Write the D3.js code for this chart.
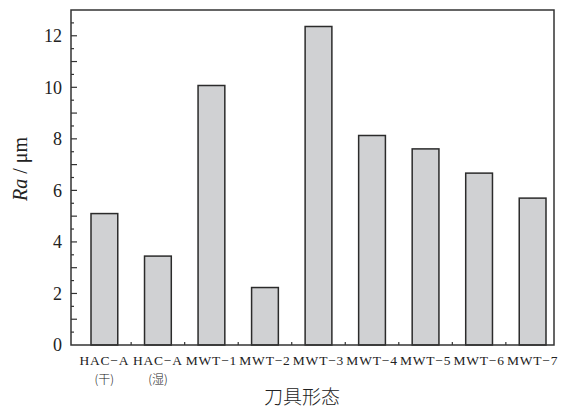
<!DOCTYPE html>
<html>
<head>
<meta charset="utf-8">
<script src="https://cdn.jsdelivr.net/npm/d3@7"></script>
<style>
  body { margin: 0; background: #fff; }
  .serif { font-family: "Liberation Serif", "Times New Roman", Times, serif; }
</style>
</head>
<body>
<svg id="chart" width="562" height="408"></svg>
<script>
// tool shapes and surface roughness Ra (um)
const categories = ["HAC-A(干)", "HAC-A(湿)", "MWT-1", "MWT-2", "MWT-3", "MWT-4", "MWT-5", "MWT-6", "MWT-7"];
const labelLine1 = ["HAC\u2212A", "HAC\u2212A", "MWT\u22121", "MWT\u22122", "MWT\u22123", "MWT\u22124", "MWT\u22125", "MWT\u22126", "MWT\u22127"];
const labelLine2 = ["(干)", "(湿)", "", "", "", "", "", "", ""];
const raValues = [5.1, 3.45, 10.07, 2.23, 12.36, 8.13, 7.61, 6.67, 5.70];
const yTicks = [0, 2, 4, 6, 8, 10, 12];

const margin = { left: 71, top: 10, right: 8, bottom: 63 };
const width = 562 - margin.left - margin.right;
const height = 408 - margin.top - margin.bottom;

const svg = d3.select("#chart");
const g = svg.append("g")
  .attr("transform", "translate(" + margin.left + "," + margin.top + ")");

const x = d3.scaleBand()
  .domain(categories)
  .range([20, width - 8])
  .paddingInner(0.5)
  .paddingOuter(0);

const y = d3.scaleLinear()
  .domain([0, 13])
  .range([height, 0]);

// bars
g.selectAll("rect.bar")
  .data(raValues)
  .enter()
  .append("rect")
  .attr("class", "bar")
  .attr("x", (d, i) => x(categories[i]))
  .attr("y", d => y(d))
  .attr("width", x.bandwidth())
  .attr("height", d => height - y(d))
  .style("fill", "#d0d1d3")
  .style("stroke", "#2b2b2b")
  .style("stroke-width", "1.5px");

// y minor ticks (every 0.5)
const minorTicks = d3.range(0.5, 13, 0.5);
g.selectAll("line.ytick")
  .data(minorTicks)
  .enter()
  .append("line")
  .attr("class", "ytick")
  .attr("x1", 0)
  .attr("x2", d => Number.isInteger(d) ? 6 : 3)
  .attr("y1", d => y(d))
  .attr("y2", d => y(d))
  .style("stroke", "#333")
  .style("stroke-width", "1.2px");

// y tick labels
g.selectAll("text.ylabel")
  .data(yTicks)
  .enter()
  .append("text")
  .attr("class", "ylabel serif")
  .attr("x", -9)
  .attr("y", d => y(d))
  .attr("dy", "0.35em")
  .attr("text-anchor", "end")
  .style("font-size", "18px")
  .style("fill", "#222")
  .text(d => d);

// x small ticks between categories
const gap = x.step() - x.bandwidth();
g.selectAll("line.xtick")
  .data(categories.slice(1))
  .enter()
  .append("line")
  .attr("class", "xtick")
  .attr("x1", d => x(d) - gap / 2)
  .attr("x2", d => x(d) - gap / 2)
  .attr("y1", height)
  .attr("y2", height - 3)
  .style("stroke", "#333")
  .style("stroke-width", "1.2px");

// frame
g.append("rect")
  .attr("x", 0)
  .attr("y", 0)
  .attr("width", width)
  .attr("height", height)
  .style("fill", "none")
  .style("stroke", "#333")
  .style("stroke-width", "1.5px");

// x labels
g.selectAll("text.xl1")
  .data(labelLine1)
  .enter()
  .append("text")
  .attr("class", "xl1 serif")
  .attr("x", (d, i) => x(categories[i]) + x.bandwidth() / 2)
  .attr("y", height + 20)
  .attr("text-anchor", "middle")
  .style("font-size", "13.5px")
  .style("letter-spacing", "0.8px")
  .style("fill", "#222")
  .text(d => d);

g.selectAll("text.xl2")
  .data(labelLine2)
  .enter()
  .append("text")
  .attr("class", "xl2")
  .attr("x", (d, i) => x(categories[i]) + x.bandwidth() / 2)
  .attr("y", height + 39)
  .attr("text-anchor", "middle")
  .style("font-family", "'Noto Sans CJK SC', sans-serif")
  .style("font-size", "12px")
  .style("font-weight", "300")
  .style("fill", "#222")
  .text(d => d);

// axis titles
svg.append("text")
  .attr("x", 302)
  .attr("y", 404)
  .attr("text-anchor", "middle")
  .style("font-size", "19px")
  .style("font-family", "'Noto Sans CJK SC', sans-serif")
  .style("font-weight", "300")
  .style("fill", "#222")
  .text("刀具形态");

const yTitle = svg.append("text")
  .attr("class", "serif")
  .attr("transform", "translate(27,169) rotate(-90)")
  .attr("text-anchor", "middle")
  .style("font-size", "20px")
  .style("fill", "#222");
yTitle.append("tspan").style("font-style", "italic").text("Ra");
yTitle.append("tspan").text(" / \u03bcm");
</script>
</body>
</html>
